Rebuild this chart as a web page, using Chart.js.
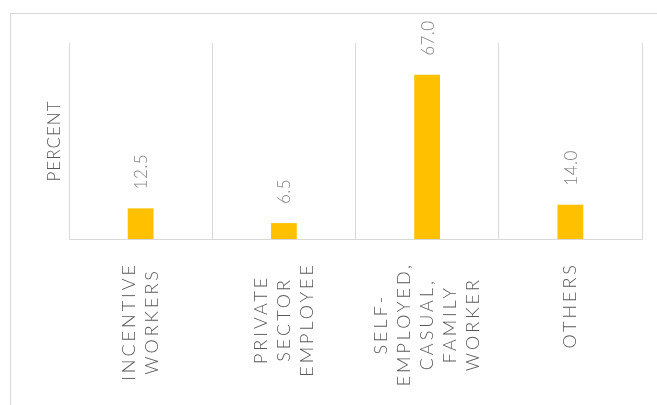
<!DOCTYPE html>
<html>
<head>
<meta charset="utf-8">
<script src="https://cdn.jsdelivr.net/npm/chart.js@4.4.1/dist/chart.umd.min.js"></script>
<style>
  html, body { margin: 0; padding: 0; background: #fff; overflow: hidden; }
  #wrap { position: relative; width: 657px; height: 405px; }
  #frame {
    position: absolute; left: 10px; top: 13px; width: 700px; height: 450px;
    border-left: 1px solid #d9d9d9; border-top: 1px solid #d9d9d9;
  }
  #chart { position: absolute; left: 0; top: 0; }
</style>
</head>
<body>
<div id="wrap">
  <div id="frame"></div>
  <canvas id="chart" width="657" height="405"></canvas>
</div>
<script>
// categories (wrapped as they appear under the axis)
const categories = [
  ['INCENTIVE', 'WORKERS'],
  ['PRIVATE', 'SECTOR', 'EMPLOYEE'],
  ['SELF-', 'EMPLOYED,', 'CASUAL,', 'FAMILY', 'WORKER'],
  ['OTHERS'],
];
const percentValues = [12.5, 6.5, 67.0, 14.0];
const valueLabels = ['12.5', '6.5', '67.0', '14.0'];
const yAxisTitle = 'PERCENT';
const yMin = 0;
const yMax = 80;

const FAMILY = 'Lato, "Open Sans", sans-serif';

// value labels above each bar, rotated to read bottom-up
const barValuesPlugin = {
  id: 'barValues',
  afterDatasetsDraw(chart) {
    const ctx = chart.ctx;
    const meta = chart.getDatasetMeta(0);
    ctx.save();
    ctx.font = '300 17px ' + FAMILY;
    ctx.fillStyle = '#7f7f7f';
    ctx.letterSpacing = '0.5px';
    ctx.textAlign = 'left';
    ctx.textBaseline = 'middle';
    meta.data.forEach((bar, i) => {
      ctx.save();
      ctx.translate(bar.x + 1, bar.y - 19);
      ctx.rotate(-Math.PI / 2);
      ctx.fillText(valueLabels[i], 0, 0);
      ctx.restore();
    });
    ctx.restore();
  }
};

// category labels: rotated, lines centred on each other, wide tracking
const categoryLabelsPlugin = {
  id: 'categoryLabels',
  afterDraw(chart) {
    const ctx = chart.ctx;
    const xScale = chart.scales.x;
    const top = chart.chartArea.bottom + 23;
    const lineGap = 23;
    ctx.save();
    ctx.font = '300 18px ' + FAMILY;
    ctx.fillStyle = '#595959';
    ctx.letterSpacing = '3px';
    ctx.textAlign = 'center';
    ctx.textBaseline = 'middle';
    categories.forEach((lines, i) => {
      const cx = xScale.getPixelForValue(i);
      const maxW = Math.max(...lines.map(l => ctx.measureText(l).width));
      const cy = top + maxW / 2;
      lines.forEach((line, j) => {
        ctx.save();
        ctx.translate(cx + (j - (lines.length - 1) / 2) * lineGap, cy);
        ctx.rotate(-Math.PI / 2);
        ctx.fillText(line, 0, 0);
        ctx.restore();
      });
    });

    // y axis title
    ctx.font = '300 17px ' + FAMILY;
    ctx.letterSpacing = '1px';
    ctx.save();
    ctx.translate(55, (chart.chartArea.top + chart.chartArea.bottom) / 2);
    ctx.rotate(-Math.PI / 2);
    ctx.fillText(yAxisTitle, 0, 0);
    ctx.restore();
    ctx.restore();
  }
};

new Chart(document.getElementById('chart').getContext('2d'), {
  type: 'bar',
  data: {
    labels: categories,
    datasets: [
      {
        data: percentValues,
        backgroundColor: '#FFC000',
        borderWidth: 0,
        barPercentage: 0.18,
        categoryPercentage: 1,
      },
    ],
  },
  options: {
    responsive: false,
    animation: false,
    devicePixelRatio: 1,
    layout: {
      padding: { left: 69, right: 15, top: 43, bottom: 166 },
    },
    plugins: {
      legend: { display: false },
      tooltip: { enabled: false },
    },
    scales: {
      x: {
        grid: {
          color: '#d9d9d9',
          lineWidth: 1,
          drawTicks: false,
          offset: true,
        },
        border: { color: '#d9d9d9', width: 1 },
        ticks: { display: false },
      },
      y: {
        display: false,
        min: yMin,
        max: yMax,
      },
    },
  },
  plugins: [barValuesPlugin, categoryLabelsPlugin],
});
</script>
</body>
</html>
